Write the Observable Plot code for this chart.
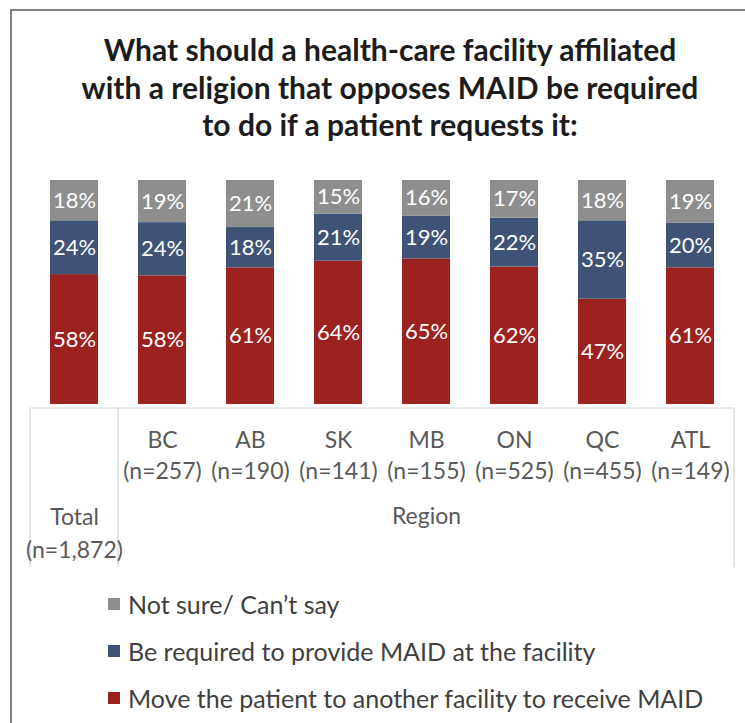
<!DOCTYPE html>
<html>
<head>
<meta charset="utf-8">
<script src="https://cdn.jsdelivr.net/npm/d3@7"></script>
<script src="https://cdn.jsdelivr.net/npm/@observablehq/plot@0.6"></script>
<style>
  html, body { margin: 0; padding: 0; background: #fff; }
  #page { position: relative; width: 745px; height: 723px; overflow: hidden; font-family: Lato, "Open Sans", sans-serif; }
  #frame { position: absolute; left: 10px; top: 9px; width: 800px; height: 800px; border-left: 2px solid #7f7f7f; border-top: 2px solid #7f7f7f; }
  #title { position: absolute; left: 30px; width: 720px; top: 31px; text-align: center; font-weight: bold; font-size: 30px; line-height: 37.5px; color: #1c1c1c; }
  #chart { position: absolute; left: 0; top: 165px; }
  #legend { position: absolute; left: 108px; top: 580px; }
  .item { display: flex; align-items: center; height: 47px; font-size: 25px; color: #404040; white-space: nowrap; }
  .sw { width: 12px; height: 12px; margin-right: 8px; flex: none; }
</style>
</head>
<body>
<div id="page">
  <div id="frame"></div>
  <div id="title">What should a health-care facility affiliated<br>with a religion that opposes MAID be required<br>to do if a patient requests it:</div>
  <div id="chart"></div>
  <div id="legend"></div>
</div>
<script>
// ---- data ----
const categories = ["Total", "BC", "AB", "SK", "MB", "ON", "QC", "ATL"];
const sampleSizes = ["1,872", "257", "190", "141", "155", "525", "455", "149"];
const regions = ["BC", "AB", "SK", "MB", "ON", "QC", "ATL"];
const seriesNames = [
  "Move the patient to another facility to receive MAID",
  "Be required to provide MAID at the facility",
  "Not sure/ Can\u2019t say"
];
const seriesColors = ["#9c2220", "#3e5375", "#8e8e8e"];
const moveValues = [58, 58, 61, 64, 65, 62, 47, 61];
const provideValues = [24, 24, 18, 21, 19, 22, 35, 20];
const notSureValues = [18, 19, 21, 15, 16, 17, 18, 19];
const regionLabel = "Region";

// ---- table built from the arrays ----
const seriesValues = [moveValues, provideValues, notSureValues];
const rows = [];
seriesNames.forEach((s, si) => {
  categories.forEach((c, ci) => rows.push({category: c, series: s, value: seriesValues[si][ci]}));
});
const nOf = Object.fromEntries(categories.map((c, i) => [c, sampleSizes[i]]));

// table lines drawn from the x scale
function tableLines(index, scales, values, dimensions) {
  const x = scales.x;
  const step = x(categories[1]) - x(categories[0]);
  const bw = typeof x.bandwidth === "function" ? x.bandwidth() : step * 0.55;
  const left = x(categories[0]) + bw / 2 - step / 2;
  const sep = left + step;
  const right = x(categories[categories.length - 1]) + bw / 2 + step / 2;
  const top = dimensions.height - dimensions.marginBottom + 4;
  const bottom = dimensions.height - 3;
  const g = d3.create("svg:g").attr("stroke", "#d6d6d6").attr("stroke-width", 1.2);
  g.append("line").attr("x1", left).attr("x2", right).attr("y1", top).attr("y2", top);
  for (const xx of [left, sep, right]) {
    g.append("line").attr("x1", xx).attr("x2", xx).attr("y1", top).attr("y2", bottom);
  }
  return g.node();
}

const stackOpts = {offset: "normalize", order: seriesNames};

const plot = Plot.plot({
  width: 745,
  height: 405,
  marginLeft: 32,
  marginRight: 13,
  marginTop: 15,
  marginBottom: 166,
  x: {domain: categories, paddingInner: 0.45, paddingOuter: 0.2, label: null},
  y: {axis: null, domain: [0, 1]},
  color: {domain: seriesNames, range: seriesColors},
  style: {fontFamily: "Lato, 'Open Sans', sans-serif", background: "transparent"},
  marks: [
    Plot.barY(rows, Plot.stackY({...stackOpts, x: "category", y: "value", fill: "series"})),
    Plot.text(rows, Plot.stackY({...stackOpts, x: "category", y: "value", z: "series",
      text: d => d.value + "%", fill: "white", fontSize: 22})),
    tableLines,
    Plot.axisX(regions, {tickSize: 0, tickPadding: 21, fontSize: 23, lineHeight: 1.36, label: null,
      color: "#595959", tickFormat: d => `${d}\n(n=${nOf[d]})`}),
    Plot.axisX([categories[0]], {tickSize: 0, tickPadding: 97, fontSize: 23, lineHeight: 1.43, label: null,
      color: "#595959", tickFormat: d => `${d}\n(n=${nOf[d]})`}),
    Plot.text([regionLabel], {x: () => regions[Math.floor(regions.length / 2)], frameAnchor: "bottom",
      dy: 119, text: d => d, fontSize: 23, fill: "#595959"})
  ]
});
document.getElementById("chart").appendChild(plot);

// ---- legend (top item = top of stack) ----
const legend = d3.select("#legend");
for (let i = seriesNames.length - 1; i >= 0; i--) {
  const it = legend.append("div").attr("class", "item");
  it.append("div").attr("class", "sw").style("background", seriesColors[i]);
  it.append("span").text(seriesNames[i]);
}
</script>
</body>
</html>
